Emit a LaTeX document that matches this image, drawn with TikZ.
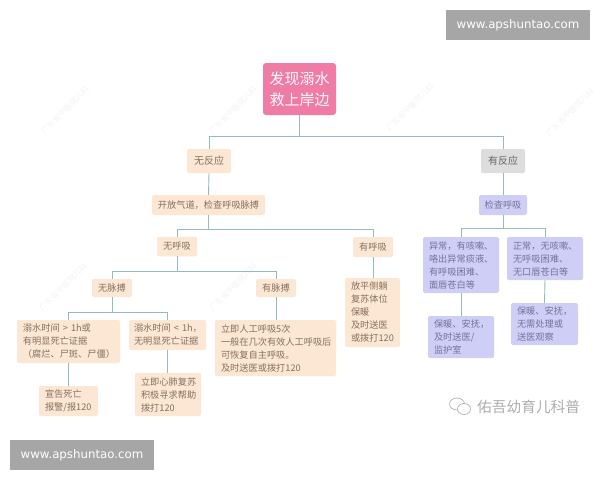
\documentclass[tikz,border=0pt]{standalone}
\usepackage{fontspec}
\setmainfont{Noto Sans CJK SC}
\newfontfamily\latinfont{DejaVu Sans}
\definecolor{peachc}{HTML}{FBE7D3}
\definecolor{purplec}{HTML}{CFCEF6}
\definecolor{greyc}{HTML}{DDDDDD}
\definecolor{pinkc}{HTML}{EE7CA6}
\definecolor{linkc}{HTML}{97B9C0}
\definecolor{browntxt}{HTML}{85705C}
\definecolor{purpletxt}{HTML}{72729A}
\definecolor{wmc}{HTML}{F1F3F4}
\tikzset{
  boxbase/.style={rounded corners=2pt,inner sep=0pt,align=center,font=\fontsize{9.2pt}{13pt}\selectfont},
  peach/.style={boxbase,fill=peachc,text=browntxt},
  purple/.style={boxbase,fill=purplec,text=purpletxt},
  grey/.style={boxbase,fill=greyc,text=black!60},
  leftbox/.style={align=left,inner xsep=6pt,inner ysep=0pt},
  rootbox/.style={boxbase,fill=pinkc,text=white!92!pink,rounded corners=3pt,font=\fontsize{15pt}{21pt}\selectfont},
  link/.style={draw=linkc,line width=0.9pt},
  banner/.style={fill=black!35,text=white,inner sep=0pt,font=\latinfont\fontsize{11.8pt}{13pt}\selectfont},
  wm/.style={text=wmc,rotate=45,font=\fontsize{8pt}{10pt}\selectfont},
}
\begin{document}
\begin{tikzpicture}[x=1pt,y=-1pt]
\useasboundingbox (0,0) rectangle (600,480);
\fill[white] (0,0) rectangle (600,480);
% faint watermarks
\foreach \wx/\wy/\wn in {65/110/a,233/110/b,410/107/c,570/112/d,63/287/e,233/287/f}
  \node[wm] (wm\wn) at (\wx,\wy) {广东省中医院儿科};
% boxes
\node[rootbox,minimum width=73pt,minimum height=52pt] (root) at (299.5,89) {发现溺水\\救上岸边};
\node[peach,font=\fontsize{10pt}{13pt}\selectfont,minimum width=44pt,minimum height=24pt] (noresp) at (209,161) {无反应};
\node[grey,font=\fontsize{10pt}{13pt}\selectfont,minimum width=44pt,minimum height=24pt] (resp) at (503,161) {有反应};
\node[peach,minimum width=113pt,minimum height=20pt] (airway) at (208.5,205) {开放气道，检查呼吸脉搏};
\node[purple,minimum width=48pt,minimum height=20pt] (check) at (503,205) {检查呼吸};
\node[peach,minimum width=40pt,minimum height=19.5pt] (nobreath) at (177,246.5) {无呼吸};
\node[peach,minimum width=40pt,minimum height=20pt] (breath) at (373,247) {有呼吸};
\node[peach,minimum width=40pt,minimum height=18pt] (nopulse) at (112,288) {无脉搏};
\node[peach,minimum width=40pt,minimum height=18pt] (pulse) at (276,288) {有脉搏};
\node[peach,leftbox,text width=91pt,minimum height=43pt] (over) at (68.5,341.5) {溺水时间 > 1h或\\有明显死亡证据\\（腐烂、尸斑、尸僵）};
\node[peach,leftbox,inner xsep=5pt,text width=67pt,minimum height=30pt] (under) at (167.5,335) {\mbox{溺水时间 < 1h，}\\无明显死亡证据};
\node[peach,leftbox,text width=109pt,minimum height=56pt] (rescue) at (275.5,348) {立即人工呼吸5次\\一般在几次有效人工呼吸后\\可恢复自主呼吸。\\及时送医或拨打120};
\node[peach,leftbox,text width=43pt,minimum height=69pt] (side) at (372.5,312.5) {放平侧躺\\复苏体位\\保暖\\及时送医\\或拨打120};
\node[purple,leftbox,text width=64pt,minimum height=56pt] (abn) at (461,265) {异常，有咳嗽、\\咯出异常痰液、\\有呼吸困难、\\面唇苍白等};
\node[purple,leftbox,text width=64pt,minimum height=43pt] (norm) at (545,258.5) {正常，无咳嗽、\\无呼吸困难、\\无口唇苍白等};
\node[purple,leftbox,text width=54pt,minimum height=42pt] (care) at (461,337) {保暖、安抚，\\及时送医/\\监护室};
\node[purple,leftbox,text width=55pt,minimum height=42pt] (watch) at (544.5,324) {保暖、安抚，\\无需处理或\\送医观察};
\node[peach,leftbox,text width=47pt,minimum height=30pt] (dead) at (68.5,401) {宣告死亡\\报警/报120};
\node[peach,leftbox,text width=54pt,minimum height=43pt] (cpr) at (168,394.5) {立即心肺复苏\\积极寻求帮助\\拨打120};
% rails
\coordinate (r0) at (299.5,136);
\coordinate (r1) at (208.5,229);
\coordinate (r2) at (177,271);
\coordinate (r3) at (112,312);
\coordinate (r4) at (503,228.5);
% connectors
\draw[link] (root.south) -- (r0);
\draw[link] (noresp.north) |- (r0);
\draw[link] (resp.north) |- (r0);
\draw[link] (noresp.south) -- (airway.north);
\draw[link] (resp.south) -- (check.north);
\draw[link] (airway.south) -- (r1);
\draw[link] (nobreath.north) |- (r1);
\draw[link] (breath.north) |- (r1);
\draw[link] (nobreath.south) -- (r2);
\draw[link] (nopulse.north) |- (r2);
\draw[link] (pulse.north) |- (r2);
\draw[link] (nopulse.south) -- (r3);
\draw[link] (over.north) |- (r3);
\draw[link] (under.north) |- (r3);
\draw[link] (pulse.south) -- (pulse.south |- rescue.north);
\draw[link] (over.south) -- (dead.north);
\draw[link] (under.south) -- (under.south |- cpr.north);
\draw[link] (breath.south) -- (breath.south |- side.north);
\draw[link] (check.south) -- (r4);
\draw[link] (abn.north) |- (r4);
\draw[link] (norm.north) |- (r4);
\draw[link] (abn.south) -- (care.north);
\draw[link] (norm.south) -- (watch.north);
% url banners
\node[banner,minimum width=144pt,minimum height=30pt] (bannertop) at (518,25) {www.apshuntao.com};
\node[banner,minimum width=144pt,minimum height=30pt] (bannerbot) at (82,455) {www.apshuntao.com};
% wechat mark
\draw[black!30,line width=0.7pt] (457,404) ellipse (7.5pt and 6pt);
\draw[black!30,line width=0.7pt,fill=white] (464,409) ellipse (6.5pt and 5.5pt);
\node[text=black!32,inner sep=0pt,anchor=west,font=\fontsize{14.7pt}{16pt}\selectfont] (brand) at (477,407) {佑吾幼育儿科普};
\end{tikzpicture}
\end{document}
